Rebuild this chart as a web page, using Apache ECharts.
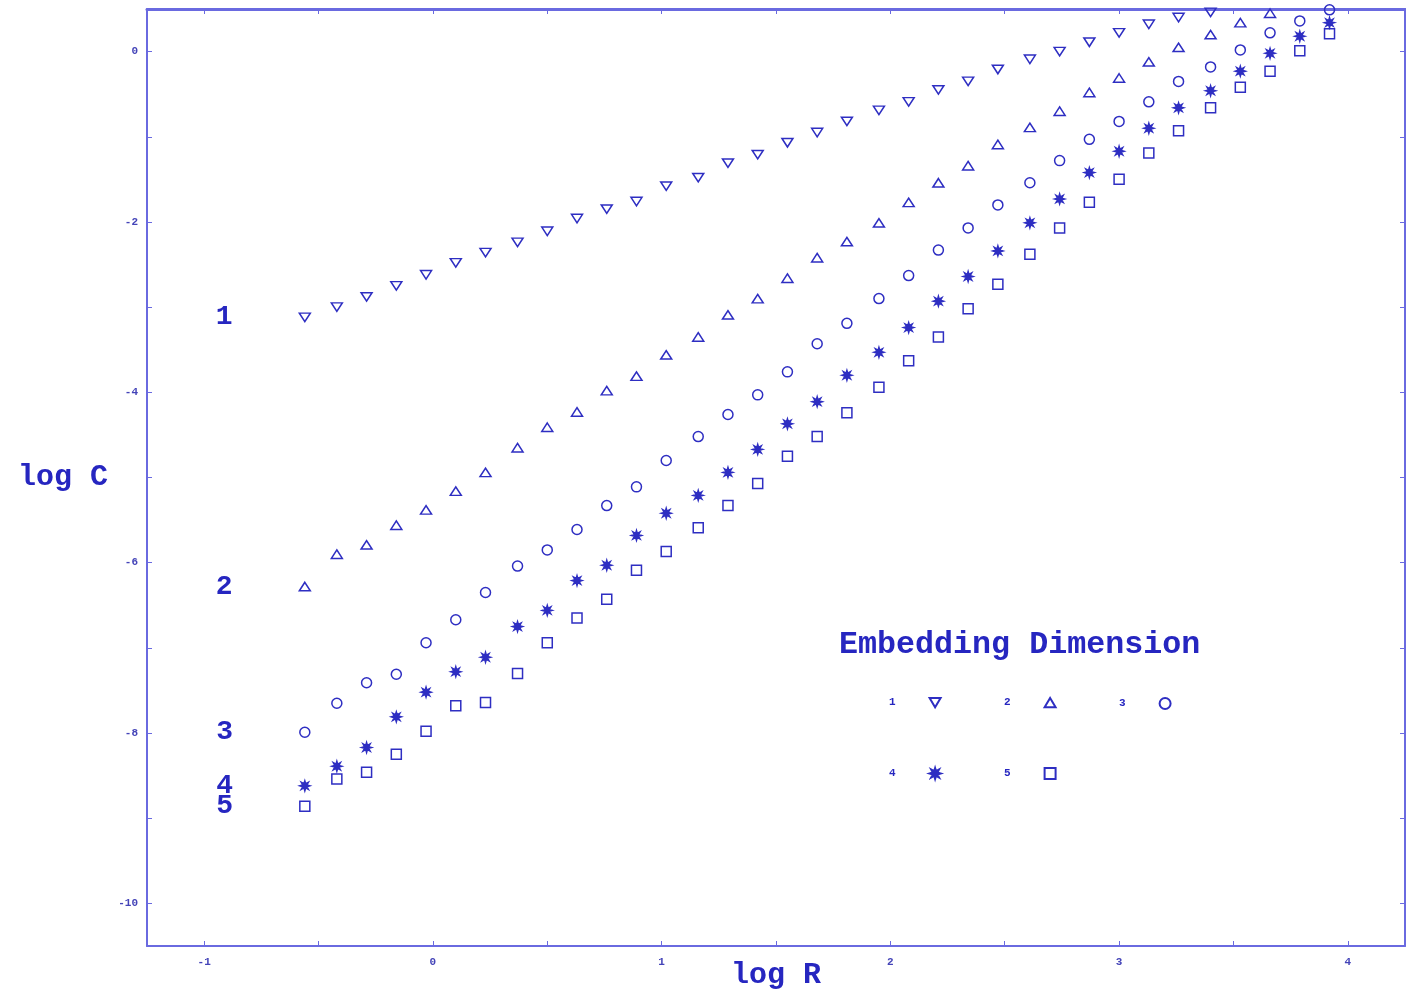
<!DOCTYPE html>
<html>
<head>
<meta charset="utf-8">
<script src="https://cdn.jsdelivr.net/npm/echarts@6/dist/echarts.min.js"></script>
<style>
html,body{margin:0;padding:0;background:#fff;}
#chart{width:1406px;height:990px;}
</style>
</head>
<body>
<div id="chart"></div>
<script>
// ---- data ----
const logR = [-0.56,-0.42,-0.29,-0.16,-0.03,0.10,0.23,0.37,0.50,0.63,0.76,0.89,1.02,1.16,1.29,1.42,1.55,1.68,1.81,1.95,2.08,2.21,2.34,2.47,2.61,2.74,2.87,3.00,3.13,3.26,3.40,3.53,3.66,3.79,3.92];
const dim1 = [-3.12,-3.00,-2.88,-2.75,-2.62,-2.48,-2.36,-2.24,-2.11,-1.96,-1.85,-1.76,-1.58,-1.48,-1.31,-1.21,-1.07,-0.95,-0.82,-0.69,-0.59,-0.45,-0.35,-0.21,-0.09,0.00,0.11,0.22,0.32,0.40,0.46];
const dim2 = [-6.28,-5.90,-5.79,-5.56,-5.38,-5.16,-4.94,-4.65,-4.41,-4.23,-3.98,-3.81,-3.56,-3.35,-3.09,-2.90,-2.66,-2.42,-2.23,-2.01,-1.77,-1.54,-1.34,-1.09,-0.89,-0.70,-0.48,-0.31,-0.12,0.05,0.20,0.34,0.45];
const dim3 = [-7.99,-7.65,-7.41,-7.31,-6.94,-6.67,-6.35,-6.04,-5.85,-5.61,-5.33,-5.11,-4.80,-4.52,-4.26,-4.03,-3.76,-3.43,-3.19,-2.90,-2.63,-2.33,-2.07,-1.80,-1.54,-1.28,-1.03,-0.82,-0.59,-0.35,-0.18,0.02,0.22,0.36,0.49];
const dim4 = [-8.62,-8.39,-8.17,-7.81,-7.52,-7.28,-7.11,-6.75,-6.56,-6.21,-6.03,-5.68,-5.42,-5.21,-4.94,-4.67,-4.37,-4.11,-3.80,-3.53,-3.24,-2.93,-2.64,-2.34,-2.01,-1.73,-1.42,-1.17,-0.90,-0.66,-0.46,-0.23,-0.02,0.18,0.34];
const dim5 = [-8.86,-8.54,-8.46,-8.25,-7.98,-7.68,-7.64,-7.30,-6.94,-6.65,-6.43,-6.09,-5.87,-5.59,-5.33,-5.07,-4.75,-4.52,-4.24,-3.94,-3.63,-3.35,-3.02,-2.73,-2.38,-2.07,-1.77,-1.50,-1.19,-0.93,-0.66,-0.42,-0.23,0.01,0.21];
const seriesNames = ['1','2','3','4','5'];
const xTicks = [-1,-0.5,0,0.5,1,1.5,2,2.5,3,3.5,4];
const xLabels = [-1,0,1,2,3,4];
const yTicks = [-10,-9,-8,-7,-6,-5,-4,-3,-2,-1,0];
const yLabels = [-10,-8,-6,-4,-2,0];

// ---- styling ----
const BLUE = '#2e2ec2';
const AXIS = '#6a6ae0';
const TEXT = '#2626c0';
const FONT = '"Liberation Mono", "DejaVu Sans Mono", monospace';
const STAR = 'path://M20,10L14.16,11.72L17.07,17.07L11.72,14.16L10,20L8.28,14.16L2.93,17.07L5.84,11.72L0,10L5.84,8.28L2.93,2.93L8.28,5.84L10,0L11.72,5.84L17.07,2.93L14.16,8.28Z';
const symbols = [
  {symbol:'path://M0,0L20,0L10,17Z', size:[11,10], fill:'transparent'},
  {symbol:'path://M10,0L20,17L0,17Z', size:[11,10], fill:'transparent'},
  {symbol:'circle', size:10, fill:'transparent'},
  {symbol:STAR, size:10, fill:BLUE},
  {symbol:'rect', size:10, fill:'transparent'}
];
const allDims = [dim1, dim2, dim3, dim4, dim5];

const series = allDims.map((vals, k) => ({
  name: seriesNames[k],
  type: 'scatter',
  xAxisIndex: 0,
  yAxisIndex: 0,
  symbol: symbols[k].symbol,
  symbolSize: symbols[k].size,
  symbolKeepAspect: true,
  itemStyle: {color: symbols[k].fill, borderColor: BLUE, borderWidth: 1.5, opacity: 1},
  emphasis: {disabled: true},
  data: vals.map((v, i) => i === 0 ? {
    value: [logR[i], v],
    label: {show: true, position: 'left', distance: 66, formatter: seriesNames[k],
      color: TEXT, fontFamily: FONT, fontWeight: 'bold', fontSize: 28}
  } : [logR[i], v])
}));

const legendPos = [
  {left: 889, top: 697},
  {left: 1004, top: 697},
  {left: 1119, top: 697},
  {left: 889, top: 767},
  {left: 1004, top: 767}
];
const legends = seriesNames.map((n, k) => ({
  data: [n],
  left: legendPos[k].left,
  top: legendPos[k].top,
  align: 'right',
  itemWidth: 11,
  itemHeight: 11,
  padding: 0,
  selectedMode: false,
  textStyle: {color: TEXT, fontFamily: FONT, fontSize: 11, fontWeight: 'bold', padding: [0, 29, 0, 0]}
}));

const chart = echarts.init(document.getElementById('chart'), null, {renderer: 'canvas'});
chart.setOption({
  backgroundColor: '#ffffff',
  animation: false,
  title: {
    text: 'Embedding Dimension', left: 839, top: 629, padding: 0,
    textStyle: {color: TEXT, fontFamily: FONT, fontWeight: 'bold', fontSize: 31.7}
  },
  legend: legends,
  grid: {left: 147, right: 1, top: 9, bottom: 44, outerBoundsMode: 'none', containLabel: false},
  xAxis: [{
    type: 'value', position: 'bottom', min: -1.25, max: 4.25,
    name: 'log R', nameLocation: 'middle', nameGap: 14, nameMoveOverlap: false,
    nameTextStyle: {color: TEXT, fontFamily: FONT, fontWeight: 'bold', fontSize: 30},
    axisLine: {show: true, onZero: false, lineStyle: {color: AXIS, width: 2}},
    axisTick: {show: true, inside: true, length: 5, customValues: xTicks, lineStyle: {color: AXIS}},
    axisLabel: {customValues: xLabels, color: '#4444b8', fontFamily: FONT, fontSize: 11, fontWeight: 'bold', margin: 11},
    splitLine: {show: false}
  }, {
    type: 'value', position: 'top', min: -1.25, max: 4.25,
    axisLine: {show: true, onZero: false, lineStyle: {color: AXIS, width: 3}},
    axisTick: {show: true, inside: true, length: 5, customValues: xTicks, lineStyle: {color: AXIS}},
    axisLabel: {show: false},
    splitLine: {show: false}
  }],
  yAxis: [{
    type: 'value', position: 'left', min: -10.5, max: 0.5,
    name: 'log C', nameLocation: 'middle', nameGap: 39, nameRotate: 0, nameMoveOverlap: false,
    nameTextStyle: {color: TEXT, fontFamily: FONT, fontWeight: 'bold', fontSize: 30, align: 'right', verticalAlign: 'middle', padding: [12, 0, 0, 0]},
    axisLine: {show: true, onZero: false, lineStyle: {color: AXIS, width: 2}},
    axisTick: {show: true, inside: true, length: 5, customValues: yTicks, lineStyle: {color: AXIS}},
    axisLabel: {customValues: yLabels, color: '#4444b8', fontFamily: FONT, fontSize: 11, fontWeight: 'bold', margin: 9},
    splitLine: {show: false}
  }, {
    type: 'value', position: 'right', min: -10.5, max: 0.5,
    axisLine: {show: true, onZero: false, lineStyle: {color: AXIS, width: 2}},
    axisTick: {show: true, inside: true, length: 5, customValues: yTicks, lineStyle: {color: AXIS}},
    axisLabel: {show: false},
    splitLine: {show: false}
  }],
  series: series
});
</script>
</body>
</html>
